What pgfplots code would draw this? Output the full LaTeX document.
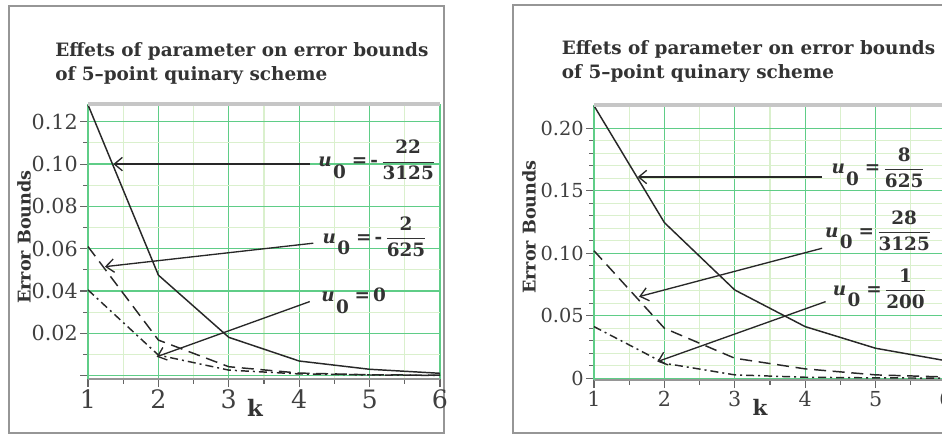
\documentclass[border=0pt]{standalone}
\usepackage{fontspec}
\setmainfont{DejaVu Serif}
\usepackage{pgfplots}
\pgfplotsset{compat=1.18}
\usetikzlibrary{arrows.meta}
\definecolor{gmaj}{RGB}{95,205,135}
\definecolor{gmin}{RGB}{218,240,205}
\definecolor{frm}{RGB}{150,150,150}
\definecolor{crv}{RGB}{40,40,40}
\newcommand{\uz}{\textbf{\textit{u}}\kern1pt\raisebox{-0.62em}{\textbf{0}}}
\newcommand{\fr}[2]{$\displaystyle\frac{\mbox{\bfseries #1}}{\mbox{\bfseries #2}}$}
\newcommand{\lab}{\fontsize{13.8pt}{16pt}\selectfont}
\tikzset{arr/.style={-{Straight Barb[length=6pt,width=10pt]}, crv, line width=1pt}}
\pgfplotsset{
 panel/.style={
  scale only axis, width=264pt, height=206.25pt,
  xmin=1, xmax=6, xtick={1,2,3,4,5,6}, minor x tick num=1,
  grid=both,
  major grid style={gmaj, line width=0.9pt},
  minor grid style={gmin, line width=0.8pt},
  separate axis lines, axis x line*=bottom, axis y line*=left,
  axis line style={-},
  x axis line style={frm, line width=1.1pt},
  y axis line style={gmaj, line width=1pt},
  tick align=outside, major tick length=6pt, minor tick length=3.5pt,
  tick style={black!60, line width=0.8pt},
  /pgf/number format/assume math mode=true,
  yticklabel style={inner xsep=1.5pt, text=black!75},
  xticklabel style={inner ysep=2pt, text=black!75},
  clip=false,
 },
 solidc/.style={crv, line width=1.1pt},
 dashc/.style={crv, line width=1.1pt, dash pattern=on 9pt off 5pt},
 dotc/.style={crv, line width=1.1pt, dash pattern=on 6pt off 3pt on 1.5pt off 3pt},
}
\begin{document}
\begin{tikzpicture}[x=0.75pt,y=0.75pt]
\path[use as bounding box] (0,0) rectangle (942,436);
\clip (0,0) rectangle (942,436);
\fill[white] (0,0) rectangle (942,436);
% panel frames
\draw[frm, line width=1.5pt] (9,3) rectangle (444,430);
\draw[frm, line width=1.5pt] (513,3) rectangle (960,431);
% titles
\node[anchor=base west, inner sep=0pt, font=\fontsize{13.8pt}{16pt}\selectfont\bfseries, text=black!80] at (55,379.3) {Effets of parameter on error bounds};
\node[anchor=base west, inner sep=0pt, font=\fontsize{13.8pt}{16pt}\selectfont\bfseries, text=black!80] at (55,355) {of 5–point quinary scheme};
\node[anchor=base west, inner sep=0pt, font=\fontsize{13.8pt}{16pt}\selectfont\bfseries, text=black!80] at (561.7,381) {Effets of parameter on error bounds};
\node[anchor=base west, inner sep=0pt, font=\fontsize{13.8pt}{16pt}\selectfont\bfseries, text=black!80] at (561.7,357) {of 5–point quinary scheme};
% y labels
\node[rotate=90, inner sep=0pt, font=\fontsize{13.2pt}{15pt}\selectfont\bfseries, text=black!80] at (24,199) {Error Bounds};
\node[rotate=90, inner sep=0pt, font=\fontsize{13.2pt}{15pt}\selectfont\bfseries, text=black!80] at (529,209) {Error Bounds};
% x labels
\node[anchor=base, inner sep=0pt, font=\fontsize{17pt}{19pt}\selectfont\bfseries, text=black!80] at (255,19.3) {k};
\node[anchor=base, inner sep=0pt, font=\fontsize{16pt}{18pt}\selectfont\bfseries, text=black!80] at (760,21) {k};

\begin{axis}[panel, at={(66pt,42.75pt)}, anchor=south west,
  ymin=-0.0016, ymax=0.1284,
  ytick={0,0.02,0.04,0.06,0.08,0.10,0.12},
  yticklabels={{},0.02,0.04,0.06,0.08,0.10,0.12},
  minor y tick num=1,
  yticklabel style={font=\fontsize{15.5pt}{17pt}\selectfont},
  xticklabel style={font=\fontsize{19pt}{21pt}\selectfont},
]
\addplot[solidc] coordinates {(1,0.128)(2,0.0475)(3,0.0181)(4,0.0069)(5,0.003)(6,0.0011)};
\addplot[dashc] coordinates {(1,0.061)(2,0.0168)(3,0.0042)(4,0.0012)(5,0.0004)(6,0.0002)};
\addplot[dotc] coordinates {(1,0.0405)(2,0.0097)(3,0.0026)(4,0.0008)(5,0.0003)(6,0.0001)};
\draw[gray!45, line width=2.5pt] (rel axis cs:0,1) -- (rel axis cs:1,1);
\draw[arr] (axis cs:4.15,0.1) -- (axis cs:1.36,0.1);
\draw[arr] (axis cs:4.2,0.0626) -- (axis cs:1.24,0.0515);
\draw[arr] (axis cs:4.15,0.035) -- (axis cs:1.975,0.0089);
\node[anchor=base west, inner sep=0pt, font=\lab, text=black!80] at (axis cs:4.27,0.0987) {\uz\ \textbf{=}\,\textbf{-}\,\fr{22}{3125}};
\node[anchor=base west, inner sep=0pt, font=\lab, text=black!80] at (axis cs:4.33,0.0625) {\uz\ \textbf{=}\,\textbf{-}\,\fr{2}{625}};
\node[anchor=base west, inner sep=0pt, font=\lab, text=black!80] at (axis cs:4.31,0.0349) {\uz\ \textbf{=}\,\textbf{0}};
\end{axis}

\begin{axis}[panel, at={(445.5pt,42pt)}, anchor=south west,
  ymin=-0.0014, ymax=0.2186,
  ytick={0,0.05,0.10,0.15,0.20},
  yticklabels={0,0.05,0.10,0.15,0.20},
  minor y tick num=4,
  yticklabel style={font=\fontsize{14.5pt}{16pt}\selectfont},
  xticklabel style={font=\fontsize{15.5pt}{17pt}\selectfont},
]
\addplot[solidc] coordinates {(1,0.218)(2,0.1245)(3,0.0706)(4,0.0413)(5,0.024)(6,0.014)};
\addplot[dashc] coordinates {(1,0.102)(2,0.04)(3,0.016)(4,0.0075)(5,0.0027)(6,0.001)};
\addplot[dotc] coordinates {(1,0.0413)(2,0.012)(3,0.0027)(4,0.0008)(5,0.0003)(6,0.0001)};
\draw[gray!45, line width=2.5pt] (rel axis cs:0,1) -- (rel axis cs:1,1);
\draw[arr] (axis cs:4.24,0.161) -- (axis cs:1.62,0.161);
\draw[arr] (axis cs:4.24,0.104) -- (axis cs:1.64,0.0653);
\draw[arr] (axis cs:4.29,0.0613) -- (axis cs:1.9,0.0133);
\node[anchor=base west, inner sep=0pt, font=\lab, text=black!80] at (axis cs:4.37,0.1634) {\uz\ \textbf{=}\,\fr{8}{625}};
\node[anchor=base west, inner sep=0pt, font=\lab, text=black!80] at (axis cs:4.28,0.1128) {\uz\ \textbf{=}\,\fr{28}{3125}};
\node[anchor=base west, inner sep=0pt, font=\lab, text=black!80] at (axis cs:4.39,0.0666) {\uz\ \textbf{=}\,\fr{1}{200}};
\end{axis}
\end{tikzpicture}
\end{document}
